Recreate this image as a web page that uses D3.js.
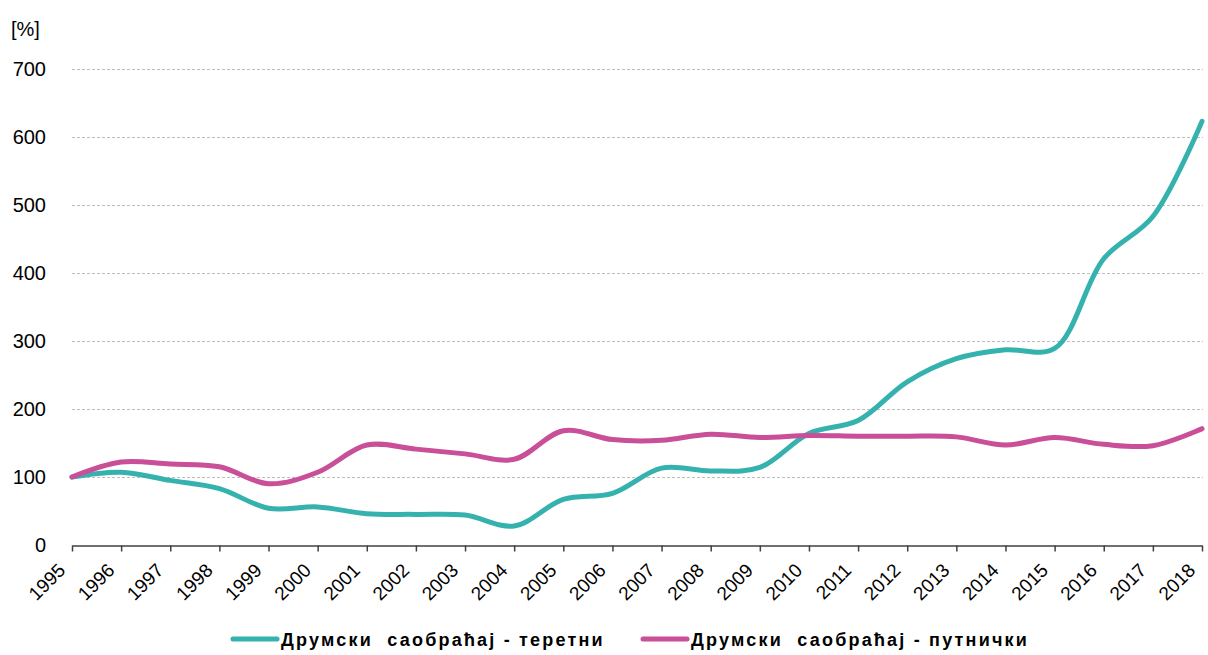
<!DOCTYPE html>
<html>
<head>
<meta charset="utf-8">
<script src="https://cdn.jsdelivr.net/npm/d3@7"></script>
<style>
  html, body { margin: 0; padding: 0; background: #fff; }
  svg { display: block; font-family: "Liberation Sans", Arial, sans-serif; }
</style>
</head>
<body>
<svg id="chart" width="1208" height="655"></svg>
<script>
// Index of road traffic volume, 1995 = 100
const years = [1995, 1996, 1997, 1998, 1999, 2000, 2001, 2002, 2003, 2004, 2005, 2006,
               2007, 2008, 2009, 2010, 2011, 2012, 2013, 2014, 2015, 2016, 2017, 2018];
const freight = [100, 107, 95, 83, 54, 56, 46, 45, 44, 28, 67, 76,
                 113, 109, 114, 164, 183, 240, 274, 287, 289, 421, 483, 623];
const passenger = [100, 122, 119, 115, 90, 107, 147, 141, 134, 126, 168, 155,
                   154, 163, 158, 161, 160, 160, 159, 147, 158, 148, 146, 171];
const yTicks = [0, 100, 200, 300, 400, 500, 600, 700];
const seriesNames = ["Друмски  саобраћај - теретни", "Друмски  саобраћај - путнички"];
const seriesColors = ["#36b2ae", "#c84f98"];

const FONT = "'Liberation Sans', Arial, sans-serif";
const svg = d3.select("#chart");
const x = d3.scaleLinear().domain([1995, 2018]).range([72, 1202]);
const y = d3.scaleLinear().domain([0, 700]).range([545, 69]);

// horizontal dashed gridlines
svg.append("g")
  .selectAll("line")
  .data(yTicks.filter(d => d > 0))
  .join("line")
  .attr("x1", x(1995)).attr("x2", x(2018) + 1)
  .attr("y1", d => y(d) + 0.5).attr("y2", d => y(d) + 0.5)
  .attr("stroke", "#bdbdbd").attr("stroke-width", 1)
  .attr("stroke-dasharray", "3,2");

// y axis labels
const yAxis = d3.axisLeft(y).tickValues(yTicks).tickSize(0).tickPadding(0);
svg.append("g")
  .attr("transform", "translate(46,0)")
  .call(yAxis)
  .call(g => g.select(".domain").remove())
  .call(g => g.selectAll("text")
    .attr("font-size", 20).attr("fill", "#000")
    .attr("font-family", FONT));

svg.append("text")
  .attr("x", 11).attr("y", 36)
  .attr("font-size", 20).attr("fill", "#000")
  .attr("font-family", FONT)
  .text("[%]");

// x axis with rotated year labels
const xAxis = d3.axisBottom(x).tickValues(years).tickFormat(d3.format("d"))
  .tickSize(6).tickSizeOuter(0);
svg.append("g")
  .attr("transform", `translate(0,${y(0) + 0.5})`)
  .call(xAxis)
  .call(g => g.select(".domain").attr("stroke", "#404040").attr("stroke-width", 1.5))
  .call(g => g.selectAll(".tick line").attr("stroke", "#404040").attr("stroke-width", 1.5))
  .call(g => g.selectAll("text")
    .attr("font-size", 19).attr("fill", "#000")
    .attr("font-family", FONT)
    .attr("text-anchor", "end")
    .attr("x", 0).attr("y", 0).attr("dy", 0)
    .attr("transform", "translate(-6,26) rotate(-45)"));

// smoothed series lines
const line = d3.line()
  .x((d, i) => x(years[i]))
  .y(d => y(d))
  .curve(d3.curveCatmullRom.alpha(0.5));

[freight, passenger].forEach((vals, i) => {
  svg.append("path")
    .datum(vals)
    .attr("fill", "none")
    .attr("stroke", seriesColors[i])
    .attr("stroke-width", 5)
    .attr("stroke-linejoin", "round")
    .attr("stroke-linecap", "round")
    .attr("d", line);
});

// legend
const legendX = [233, 643];
const legend = svg.append("g");
seriesNames.forEach((name, i) => {
  legend.append("line")
    .attr("x1", legendX[i]).attr("x2", legendX[i] + 44)
    .attr("y1", 639).attr("y2", 639)
    .attr("stroke", seriesColors[i]).attr("stroke-width", 5)
    .attr("stroke-linecap", "round");
  legend.append("text")
    .attr("x", legendX[i] + 48).attr("y", 646)
    .attr("font-size", 18).attr("font-weight", "bold").attr("fill", "#000")
    .attr("font-family", FONT)
    .attr("letter-spacing", 2.2)
    .style("white-space", "pre")
    .text(name);
});
</script>
</body>
</html>
